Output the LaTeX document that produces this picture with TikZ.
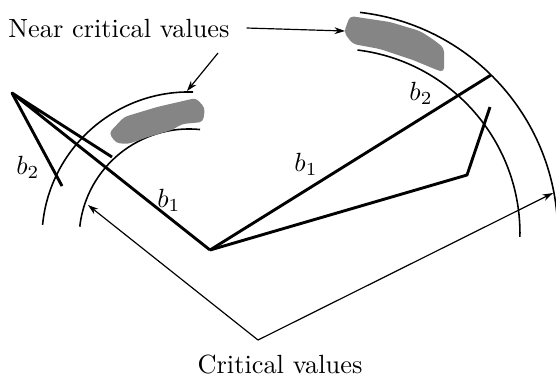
\documentclass[tikz,border=0pt]{standalone}
\usetikzlibrary{arrows.meta}

\begin{document}
\begin{tikzpicture}[
  x=0.38pt, y=-0.38pt,
  link/.style={line width=1.1pt, line join=round},
  rim/.style={line width=0.6pt},
  arr/.style={-{Stealth[length=4pt,width=2.6pt]}, line width=0.45pt},
  patch/.style={fill=black!48, draw=none, rounded corners=1.5pt},
  lbl/.style={inner sep=0pt},
]
\useasboundingbox (0,0) rectangle (556,378);

% joints of the two arms
\coordinate (base) at (210,250);
\coordinate (lj) at (12,93);
\coordinate (ltipA) at (112,157);
\coordinate (ltipB) at (62,186);
\coordinate (rtip) at (491,75);
\coordinate (relb) at (467,175);
\coordinate (rtipB) at (490,107);

% workspace boundaries
\draw[rim] (193,92) arc[start angle=-88.4, end angle=-174.5, radius=147];
\draw[rim] (200,129.5) arc[start angle=-84.3, end angle=-173.6, radius=110];
\draw[rim] (360,12.4) arc[start angle=-83.5, end angle=1.5, radius=223];
\draw[rim] (357.5,50) arc[start angle=-83, end angle=1, radius=185];

% near critical patches
\fill[patch] (109,133) -- (124,117) -- (157,107) -- (196,98) -- (205,108) -- (203,122)
  -- (182,124) -- (172,130) -- (148,137) -- (128,144) -- (116,143) -- cycle;
\fill[patch] (344,32) -- (350,16) -- (390,22) -- (420,31) -- (434,40) -- (444,48) -- (444,72)
  -- (437,70) -- (413,60) -- (380,49) -- (353,44) -- (348,38) -- cycle;

% arms
\draw[link] (base) -- (lj) -- (ltipA);
\draw[link] (lj) -- (ltipB);
\draw[link] (base) -- (rtip);
\draw[link] (base) -- (relb) -- (rtipB);

\node[lbl] (lb2) at (28,167) {$b_2$};
\node[lbl] (lb1) at (169,200) {$b_1$};
\node[lbl] (rb1) at (306,164) {$b_1$};
\node[lbl] (rb2) at (421,93) {$b_2$};

% labels with arrows
\node (ncv) at (119,28) {Near critical values};
\coordinate (blobR) at (345,31);
\coordinate (ncS) at (218,53);
\coordinate (blobL) at (187,91);
\draw[arr] ([xshift=3pt]ncv.east) -- (blobR);
\draw[arr] (ncS) -- (blobL);

\node (crit) at (280,364) {Critical values};
\coordinate (cv) at (258,340);
\coordinate (cvL) at (88,205);
\coordinate (cvR) at (553,193);
\draw[arr] (cv) -- (cvL);
\draw[arr] (cv) -- (cvR);
\end{tikzpicture}
\end{document}
